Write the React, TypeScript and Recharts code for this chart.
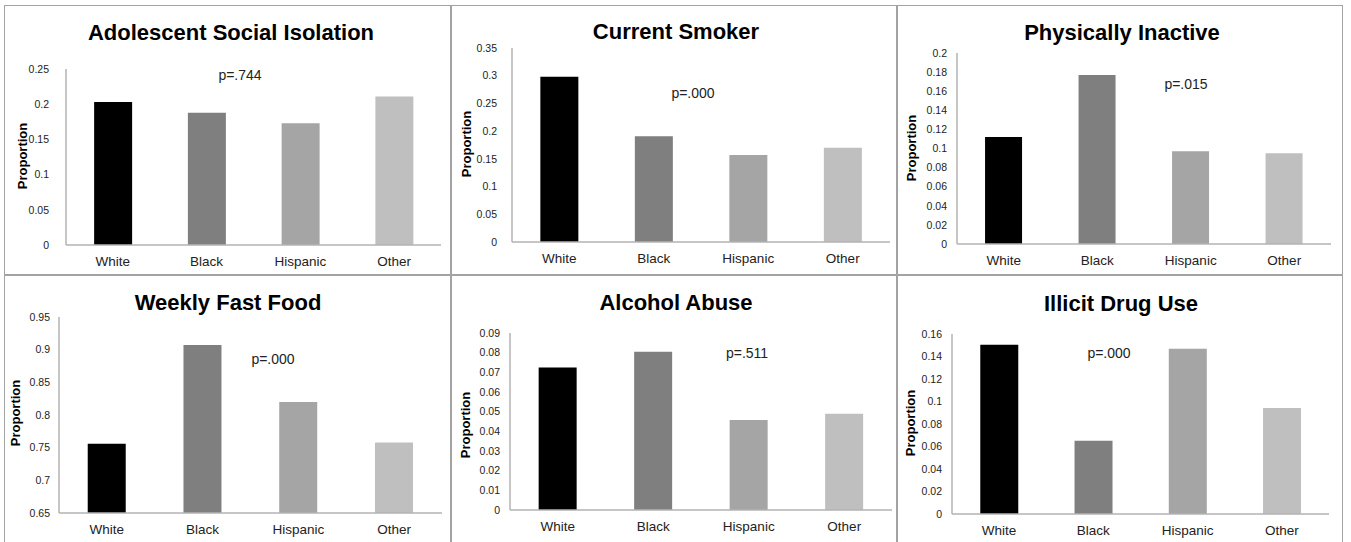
import { BarChart, Bar, Cell, XAxis, YAxis } from 'recharts'

const CATEGORIES = ['White', 'Black', 'Hispanic', 'Other']
const BAR_COLORS = ['#000000', '#7f7f7f', '#a5a5a5', '#bfbfbf']

const ISOLATION = [0.203, 0.188, 0.173, 0.211]
const SMOKER = [0.298, 0.191, 0.157, 0.17]
const INACTIVE = [0.112, 0.177, 0.097, 0.095]
const FAST_FOOD = [0.756, 0.907, 0.82, 0.758]
const ALCOHOL = [0.0725, 0.0805, 0.0457, 0.049]
const DRUGS = [0.1505, 0.0652, 0.147, 0.0942]

const TICKS_ISOLATION = [0, 0.05, 0.1, 0.15, 0.2, 0.25]
const TICKS_SMOKER = [0, 0.05, 0.1, 0.15, 0.2, 0.25, 0.3, 0.35]
const TICKS_INACTIVE = [0, 0.02, 0.04, 0.06, 0.08, 0.1, 0.12, 0.14, 0.16, 0.18, 0.2]
const TICKS_FAST_FOOD = [0.65, 0.7, 0.75, 0.8, 0.85, 0.9, 0.95]
const TICKS_ALCOHOL = [0, 0.01, 0.02, 0.03, 0.04, 0.05, 0.06, 0.07, 0.08, 0.09]
const TICKS_DRUGS = [0, 0.02, 0.04, 0.06, 0.08, 0.1, 0.12, 0.14, 0.16]

const TITLES = [
  'Adolescent Social Isolation',
  'Current Smoker',
  'Physically Inactive',
  'Weekly Fast Food',
  'Alcohol Abuse',
  'Illicit Drug Use',
]
const P_VALUES = ['p=.744', 'p=.000', 'p=.015', 'p=.000', 'p=.511', 'p=.000']

const FONT = '"Liberation Sans", Arial, sans-serif'
const Y_W = 40
const X_H = 26

// page-coordinate layout for each panel
const PANELS = [
  { values: ISOLATION, ticks: TICKS_ISOLATION, box: [4, 5, 447, 270], plot: [66, 441, 69, 245], title: [231, 33], p: [240, 75], prop: [22, 156], gap: 17 },
  { values: SMOKER, ticks: TICKS_SMOKER, box: [451, 5, 446, 270], plot: [512, 890, 48, 242], title: [676, 32], p: [693, 93], prop: [466, 144], gap: 15 },
  { values: INACTIVE, ticks: TICKS_INACTIVE, box: [897, 5, 446, 270], plot: [957, 1331, 53, 244], title: [1122, 33], p: [1186, 84], prop: [911, 148], gap: 10 },
  { values: FAST_FOOD, ticks: TICKS_FAST_FOOD, box: [4, 275, 447, 270], plot: [59, 442, 317, 513], title: [228, 303], p: [273, 359], prop: [15, 413], gap: 9 },
  { values: ALCOHOL, ticks: TICKS_ALCOHOL, box: [451, 275, 446, 270], plot: [510, 892, 333, 510], title: [676, 303], p: [747, 353], prop: [465, 425], gap: 10 },
  { values: DRUGS, ticks: TICKS_DRUGS, box: [897, 275, 446, 270], plot: [952, 1329, 334, 514], title: [1121, 304], p: [1109, 353], prop: [910, 423], gap: 10 },
]

function Panel({ idx }: { idx: number }) {
  const cfg = PANELS[idx]
  const [bx, by, bw, bh] = cfg.box
  const [x0, x1, y0, y1] = cfg.plot
  const data = CATEGORIES.map((name, i) => ({ name, value: cfg.values[i] }))
  const ticks = cfg.ticks
  const margin = {
    left: x0 - bx - Y_W,
    right: bx + bw - x1,
    top: y0 - by,
    bottom: by + bh - y1 - X_H,
  }
  return (
    <>
      <div
        style={{
          position: 'absolute',
          left: bx,
          top: by,
          width: bw,
          height: bh,
          boxSizing: 'border-box',
          border: '1.5px solid #a3a3a3',
        }}
      />
      <div style={{ position: 'absolute', left: bx, top: by }}>
        <BarChart width={bw} height={bh} data={data} margin={margin} barCategoryGap="30%">
          <XAxis
            dataKey="name"
            height={X_H}
            axisLine={{ stroke: '#b3b3b3', strokeWidth: 1.5 }}
            tickLine={false}
            tickSize={0}
            tickMargin={11}
            tick={{ fill: '#222', fontSize: 13.5, fontFamily: FONT }}
          />
          <YAxis
            width={Y_W}
            domain={[ticks[0], ticks[ticks.length - 1]]}
            ticks={ticks}
            interval={0}
            axisLine={{ stroke: '#b3b3b3', strokeWidth: 1.5 }}
            tickLine={false}
            tickSize={0}
            tickMargin={cfg.gap}
            tickFormatter={(v: number) => String(v)}
            tick={{ fill: '#222', fontSize: 10.5, fontFamily: FONT }}
            allowDataOverflow
          />
          <Bar dataKey="value" isAnimationActive={false}>
            {data.map((_, i) => (
              <Cell key={i} fill={BAR_COLORS[i]} />
            ))}
          </Bar>
        </BarChart>
      </div>
      <div
        style={{
          position: 'absolute',
          left: cfg.title[0],
          top: cfg.title[1],
          transform: 'translate(-50%, -50%)',
          fontFamily: FONT,
          fontWeight: 'bold',
          fontSize: 22,
          whiteSpace: 'nowrap',
          color: '#000',
        }}
      >
        {TITLES[idx]}
      </div>
      <div
        style={{
          position: 'absolute',
          left: cfg.p[0],
          top: cfg.p[1],
          transform: 'translate(-50%, -50%)',
          fontFamily: FONT,
          fontSize: 14,
          whiteSpace: 'nowrap',
          color: '#222',
        }}
      >
        {P_VALUES[idx]}
      </div>
      <div
        style={{
          position: 'absolute',
          left: cfg.prop[0],
          top: cfg.prop[1],
          transform: 'translate(-50%, -50%) rotate(-90deg)',
          fontFamily: FONT,
          fontWeight: 'bold',
          fontSize: 13,
          whiteSpace: 'nowrap',
          color: '#000',
        }}
      >
        Proportion
      </div>
    </>
  )
}

export default function App() {
  return (
    <div
      style={{
        position: 'absolute',
        left: 0,
        top: 0,
        width: 1351,
        height: 542,
        overflow: 'hidden',
        background: '#fff',
      }}
    >
      {PANELS.map((_, i) => (
        <Panel key={i} idx={i} />
      ))}
    </div>
  )
}
